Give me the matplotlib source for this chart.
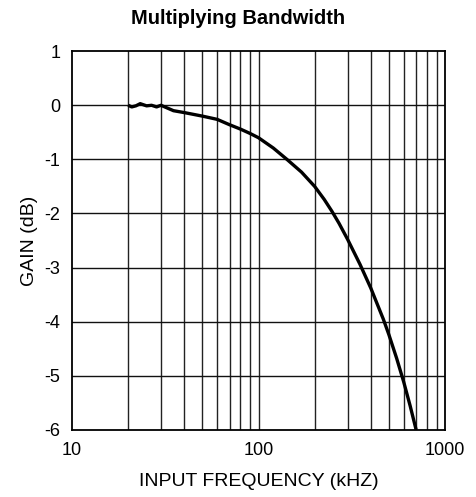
import matplotlib.pyplot as plt
from matplotlib.ticker import FixedLocator, NullFormatter

plt.rcParams['font.family'] = ['Liberation Sans', 'DejaVu Sans']

# data (kHz, dB)
freq = [20, 20.9, 22, 23.2, 25.1, 26.7, 28.4, 30, 35, 40, 50, 60, 70, 80, 90, 100,
        120, 142, 170, 200, 225, 247, 270, 300, 350, 400, 467, 500, 550, 600, 650, 700]
gain = [0.0, -0.03, -0.01, 0.03, -0.01, 0.0, -0.03, 0.0, -0.1, -0.135, -0.2, -0.26,
        -0.36, -0.44, -0.52, -0.6, -0.79, -1.0, -1.235, -1.5, -1.74, -1.955, -2.18,
        -2.475, -2.94, -3.38, -3.955, -4.24, -4.675, -5.11, -5.555, -6.0]

x_ticks = [10, 100, 1000]
x_labels = ['10', '100', '1000']
x_grid = [20, 30, 40, 50, 60, 70, 80, 90, 100, 200, 300, 400, 500, 600, 700, 800, 900]
y_ticks = [-6, -5, -4, -3, -2, -1, 0, 1]

fig = plt.figure(figsize=(4.77, 4.97), dpi=100)
ax = fig.add_axes([0.151, 0.135, 0.782, 0.762])

for xv in x_grid:
    ax.axvline(xv, color='#222222', lw=1.0, zorder=1)
for yv in y_ticks[1:-1]:
    ax.axhline(yv, color='#111111', lw=1.0, zorder=1)

ax.plot(freq, gain, color='black', lw=2.4, solid_capstyle='butt', zorder=3)

ax.set_xscale('log')
ax.set_xlim(10, 1000)
ax.set_ylim(-6, 1)
ax.xaxis.set_major_locator(FixedLocator(x_ticks))
ax.set_xticklabels(x_labels)
ax.xaxis.set_minor_locator(FixedLocator([]))
ax.xaxis.set_minor_formatter(NullFormatter())
ax.set_yticks(y_ticks)
ax.set_yticklabels([str(v) for v in y_ticks])
ax.tick_params(axis='both', length=0, labelsize=13)
ax.tick_params(axis='x', pad=9)
ax.tick_params(axis='y', pad=8.5)

for s in ax.spines.values():
    s.set_linewidth(1.3)
    s.set_color('black')

ax.set_xlabel('INPUT FREQUENCY (kHZ)', fontsize=14)
ax.xaxis.label.set_va('center')
ax.xaxis.set_label_coords(0.5, -0.137)
ax.set_ylabel('GAIN (dB)', fontsize=14)
ax.yaxis.label.set_va('center')
ax.yaxis.set_label_coords(-0.113, 0.5)
fig.text(0.5, 0.962, 'Multiplying Bandwidth', ha='center', va='center',
         fontsize=14.5, fontweight='bold')

fig.savefig('out.png', dpi=100)
